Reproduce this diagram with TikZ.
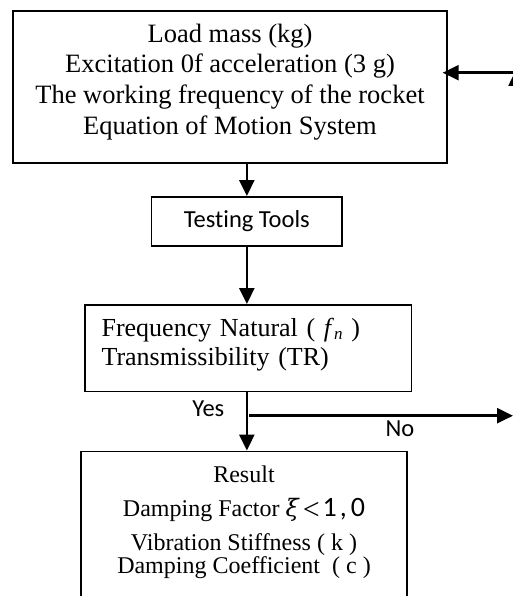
\documentclass[tikz,border=0pt]{standalone}
\usepackage{fontspec}
\setmainfont{Liberation Serif}
\newfontfamily\calibrifont[Ligatures=NoCommon]{Carlito}
\newfontfamily\xifont{DejaVu Serif}
\usetikzlibrary{arrows.meta}
\newcommand\serifbig{\fontsize{26.5}{30.6}\selectfont}
\newcommand\seriffreq{\fontsize{26}{29}\selectfont}
\newcommand\serifres{\fontsize{24}{23.3}\selectfont}
\newcommand\sansmid{\calibrifont\fontsize{24.5}{28}\selectfont}

\tikzset{
  box/.style={draw, line width=1.7pt, inner sep=0pt, align=center, font=\serifbig},
  arr/.style={line width=2.6pt, -{Triangle[length=16pt,width=15pt]}},
  lbl/.style={inner sep=0pt, anchor=base, font=\sansmid}
}

\begin{document}
\begin{tikzpicture}[x=1pt, y=-1pt]
\useasboundingbox (0,0) rectangle (513,596);
\clip (0,0) rectangle (513,596);

% input block
\node[box, minimum width=433.7pt, minimum height=152pt, text depth=16pt, anchor=north west]
  (load) at (12.3,10.2)
  {Load mass (kg)\\Excitation 0f acceleration (3 g)\\The working frequency of the rocket\\Equation of Motion System};

% testing block
\node[box, font=\sansmid, minimum width=190.6pt, minimum height=49.4pt, anchor=north west]
  (tools) at (150.7,196) {Testing Tools};

% measured quantities
\node[box, font=\seriffreq, align=left, minimum width=326.7pt, minimum height=86.5pt,
      text width=293.3pt, inner xsep=16.7pt, text depth=41.7pt, anchor=north west]
  (freq) at (84,304)
  {Frequency Natural ( \textit{f}{\fontsize{17}{17}\selectfont\raisebox{-3pt}{\textit{n}}} )\\Transmissibility (TR)};

% result block (runs past the lower edge)
\node[box, font=\serifres, minimum width=326.3pt, inner ysep=14.8pt, text depth=60pt, anchor=north]
  (res) at (244,450.5)
  {Result\\[10.7pt]
   Damping Factor {\xifont\fontsize{24}{24}\selectfont\itshape ξ}\hspace{4pt}{\fontsize{30}{30}\selectfont\raisebox{-2.5pt}{<}}\hspace{3pt}{\calibrifont\fontsize{28}{28}\selectfont 1\kern3pt,\kern4pt0}\\[10pt]
   Vibration Stiffness ( k )\\
   Damping Coefficient~ ( c )};

% main flow
\draw[arr] (load.south -| tools.north) -- (tools.north);
\draw[arr] (tools.south) -- (tools.south |- freq.north);
\draw[arr] (freq.south -| tools.south) -- (res.north -| tools.south);

\node[lbl] (yes) at (208.3,416) {Yes};
\node[lbl] (no) at (400,436) {No};

% "No" branch and return loop
\coordinate (nostart) at (249,415.7);
\coordinate (noend) at (513,415.7);
\draw[arr] (nostart) -- (noend);

\coordinate (loopbot) at (516,415.7);
\coordinate (looptop) at (516,70);
\draw[arr] (loopbot) -- (looptop);

\coordinate (loopin) at (530,72.7);
\draw[arr] (loopin) -- ([xshift=-5pt]load.east |- loopin);
\end{tikzpicture}
\end{document}
